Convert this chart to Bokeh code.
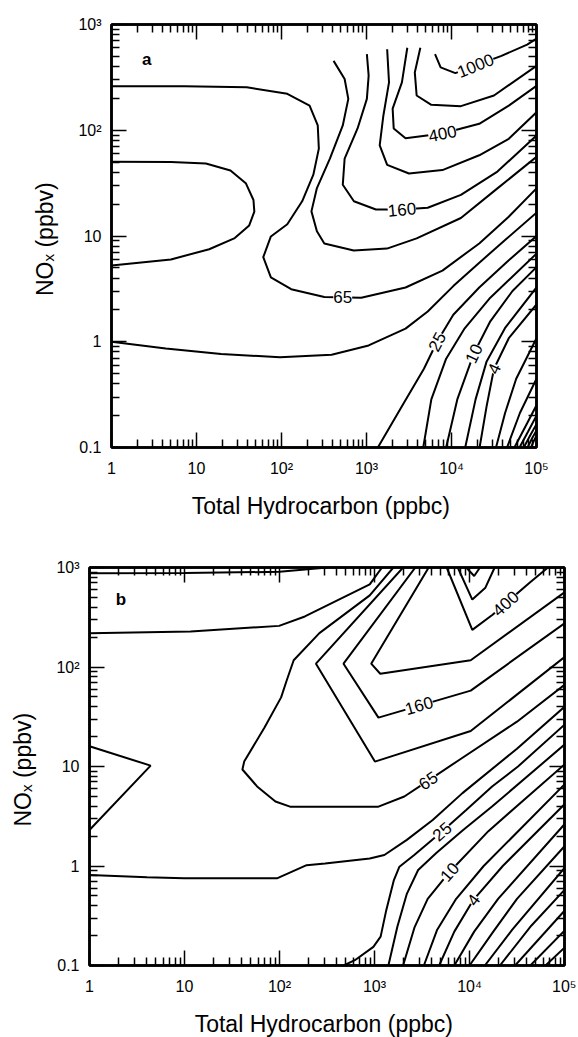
from bokeh.plotting import figure
from bokeh.models import LogAxis, FixedTicker, CustomJSTickFormatter, Spacer
from bokeh.layouts import column, row
from bokeh.embed import file_html
from bokeh.resources import INLINE
from bokeh.core.properties import value

FONT = "Liberation Sans"

X_TICKS = [1, 10, 100, 1000, 10000, 100000]
X_TICK_LABELS = ["1", "10", "10²", "10³", "10⁴", "10⁵"]
Y_TICKS = [0.1, 1, 10, 100, 1000]
Y_TICK_LABELS = ["0.1", "1", "10", "10²", "10³"]

# ---------------- panel a contour lines (Total HC ppbc, NOx ppbv) ----------------
a1000_x = [6400, 7450, 11100, 19200, 38700, 77600, 100000]
a1000_y = [525, 393, 347, 409, 505, 646, 735]
a630_x = [4300, 3700, 3890, 5790, 12900, 31600, 100000]
a630_y = [603, 352, 213, 174, 169, 213, 407]
a400_x = [3020, 2610, 2030, 2090, 2880, 7820, 21200, 47200, 100000]
a400_y = [603, 284, 160, 104, 84, 93, 115, 171, 263]
a250_x = [1750, 1840, 1580, 1430, 1750, 3160, 7820, 21200, 47200, 100000]
a250_y = [583, 284, 138, 72, 47, 39, 42, 58, 83, 148]
a160_x = [1010, 1060, 1010, 785, 553, 526, 711, 1290, 2610, 5250, 12900, 34700, 100000]
a160_y = [524, 328, 198, 104, 54, 30.5, 21.3, 17.8, 17.8, 18.5, 24.5, 40.7, 89]
a100_x = [410, 553, 611, 526, 371, 261, 225, 261, 319, 708, 1740, 3890, 12900, 34700, 100000]
a100_y = [453, 305, 198, 111, 54, 28.4, 17.1, 11.1, 8.5, 7.3, 7.6, 9.5, 14.8, 28.2, 56]
a65_x = [1, 7.2, 39, 117, 214, 267, 275, 237, 175, 117, 75, 61, 75, 130, 319, 867, 2880, 7820, 21200, 46800, 100000]
a65_y = [261, 261, 255, 221, 171, 111, 67, 38, 21.3, 12.9, 9.9, 6.3, 4.06, 3.14, 2.65, 2.61, 3.26, 4.71, 8.5, 15.1, 28.2]
a40_lobe_x = [1, 5.0, 12.9, 25.1, 38, 46.8, 47.9, 41.7, 28.2, 14.1, 5.0, 1]
a40_lobe_y = [50.5, 50.1, 48.5, 41.7, 31.6, 21.9, 17.0, 12.6, 9.55, 7.5, 6.0, 5.25]
a40_x = [1, 4.35, 19.5, 96, 389, 1060, 2880, 5250, 10500, 21400, 42700, 100000]
a40_y = [1.0, 0.863, 0.767, 0.713, 0.755, 0.923, 1.33, 1.93, 3.36, 5.62, 9.16, 16.6]
a25_x = [1360, 2610, 4740, 6760, 10500, 21200, 47200, 100000]
a25_y = [0.1, 0.246, 0.555, 1.0, 1.8, 3.26, 5.89, 10]
a16_x = [4650, 5790, 8650, 14300, 28600, 100000]
a16_y = [0.1, 0.285, 0.692, 1.34, 2.61, 6.81]
a10_x = [8650, 11700, 18300, 28600, 52200, 100000]
a10_y = [0.1, 0.285, 0.773, 1.56, 3.02, 5.07]
a6_x = [14500, 19200, 25900, 42700, 100000]
a6_y = [0.1, 0.285, 0.652, 1.35, 3.26]
a4_x = [21400, 25900, 31600, 47200, 100000]
a4_y = [0.1, 0.246, 0.555, 1.08, 2.25]
a2_5_x = [33400, 42700, 57700, 100000]
a2_5_y = [0.1, 0.212, 0.447, 1.08]
a1_6_x = [45000, 63800, 100000]
a1_6_y = [0.1, 0.212, 0.447]
a1_x = [55000, 74100, 100000]
a1_y = [0.1, 0.158, 0.251]
a0_63_x = [63100, 79400, 100000]
a0_63_y = [0.1, 0.141, 0.2]
a0_4_x = [70800, 85100, 100000]
a0_4_y = [0.1, 0.132, 0.166]
a0_25_x = [78500, 89100, 100000]
a0_25_y = [0.1, 0.123, 0.145]
a0_16_x = [86100, 92900, 100000]
a0_16_y = [0.1, 0.115, 0.129]

a_label_x = [19200, 7820, 2610, 525, 6760, 18300, 31600]
a_label_y = [409, 93, 17.8, 2.63, 1.0, 0.773, 0.555]
a_label_text = ["1000", "400", "160", "65", "25", "10", "4"]
a_label_angle = [22, 11, 5, 0, 62, 65, 65]

# ---------------- panel b contour lines ----------------
b_top_x = [1, 10, 100, 320]
b_top_y = [875, 880, 905, 1000]
b40u_x = [1, 11.6, 99, 185, 891, 1200]
b40u_y = [218, 227, 259, 322, 676, 1000]
b40_lobe_x = [1, 4.4, 1]
b40_lobe_y = [16, 10.2, 2.3]
b40_x = [1, 4.03, 9.9, 94, 193, 302, 891, 1270, 2190, 4100, 8430, 31600, 100000]
b40_y = [0.81, 0.769, 0.752, 0.752, 1.02, 1.06, 1.19, 1.29, 1.83, 2.9, 5.4, 15.1, 39.8]
b65_x = [1580, 891, 263, 141, 119, 104, 69.3, 42.5, 40.7, 58.1, 90.6, 129, 1100, 2060, 3680, 7850, 31600, 100000]
b65_y = [1000, 525, 219, 117, 73.1, 49.5, 24.5, 11.2, 9.33, 6.31, 4.45, 3.95, 3.95, 4.99, 7.21, 11.7, 28.2, 66.1]
b100_x = [2000, 242, 1010, 10300, 100000]
b100_y = [1000, 108, 11.2, 22.7, 126]
b160_x = [2690, 472, 1100, 10300, 100000]
b160_y = [1000, 108, 31, 57.9, 275]
b250_x = [3720, 923, 1150, 10300, 100000]
b250_y = [1000, 108, 85.5, 117, 562]
b400_x = [5750, 10700, 17500, 42900, 67000]
b400_y = [1000, 236, 335, 703, 1000]
b630_x = [7520, 10700, 14700, 18400]
b630_y = [1000, 476, 627, 1000]
b1000_x = [9230, 11200, 12900]
b1000_y = [1000, 822, 1000]
b25_x = [474, 621, 973, 1160, 1330, 1600, 1830, 2620, 5140, 9230, 17300, 32400, 100000]
b25_y = [0.1, 0.113, 0.154, 0.195, 0.36, 0.723, 0.984, 1.29, 2.22, 3.66, 6.3, 10, 26.3]
b16_x = [1400, 1740, 2190, 2880, 4470, 8510, 17400, 100000]
b16_y = [0.1, 0.245, 0.525, 0.912, 1.35, 2.29, 3.98, 16.6]
b10_x = [2000, 2630, 3630, 6170, 15800, 100000]
b10_y = [0.1, 0.24, 0.468, 0.871, 2.24, 10.5]
b6_x = [3310, 4570, 7240, 14100, 100000]
b6_y = [0.1, 0.229, 0.468, 1.0, 6.6]
b4_x = [4790, 6920, 11000, 22400, 100000]
b4_y = [0.1, 0.219, 0.457, 1.0, 4.17]
b2_5_x = [6920, 11200, 20000, 100000]
b2_5_y = [0.1, 0.219, 0.468, 2.63]
b1_6_x = [10000, 17800, 31600, 100000]
b1_6_y = [0.1, 0.219, 0.468, 1.58]
b1_x = [14500, 28200, 100000]
b1_y = [0.1, 0.229, 0.955]
b0_63_x = [20900, 44700, 100000]
b0_63_y = [0.1, 0.251, 0.575]
b0_4_x = [30200, 100000]
b0_4_y = [0.1, 0.355]
b0_25_x = [43700, 100000]
b0_25_y = [0.1, 0.224]
b0_16_x = [63100, 100000]
b0_16_y = [0.1, 0.151]

b_label_x = [24000, 2940, 3680, 5140, 6170, 11000]
b_label_y = [435, 41, 7.21, 2.22, 0.871, 0.457]
b_label_text = ["400", "160", "65", "25", "10", "4"]
b_label_angle = [42, 16, 34, 41, 48, 54]

A_LINES = [(a1000_x, a1000_y), (a630_x, a630_y), (a400_x, a400_y), (a250_x, a250_y),
           (a160_x, a160_y), (a100_x, a100_y), (a65_x, a65_y), (a40_lobe_x, a40_lobe_y),
           (a40_x, a40_y), (a25_x, a25_y), (a16_x, a16_y), (a10_x, a10_y), (a6_x, a6_y),
           (a4_x, a4_y), (a2_5_x, a2_5_y), (a1_6_x, a1_6_y), (a1_x, a1_y),
           (a0_63_x, a0_63_y), (a0_4_x, a0_4_y), (a0_25_x, a0_25_y), (a0_16_x, a0_16_y)]
B_LINES = [(b_top_x, b_top_y), (b40u_x, b40u_y), (b40_lobe_x, b40_lobe_y), (b40_x, b40_y),
           (b65_x, b65_y), (b100_x, b100_y), (b160_x, b160_y), (b250_x, b250_y),
           (b400_x, b400_y), (b630_x, b630_y), (b1000_x, b1000_y), (b25_x, b25_y),
           (b16_x, b16_y), (b10_x, b10_y), (b6_x, b6_y), (b4_x, b4_y), (b2_5_x, b2_5_y),
           (b1_6_x, b1_6_y), (b1_x, b1_y), (b0_63_x, b0_63_y), (b0_4_x, b0_4_y),
           (b0_25_x, b0_25_y), (b0_16_x, b0_16_y)]


def minor_of(ticks):
    out = []
    for t in ticks[:-1]:
        for k in range(2, 10):
            out.append(t * k)
    return out


def make_panel(fw, fh, left, top, bottom, right, lines, lab_x, lab_y, lab_t, lab_a,
               letter, letter_x, letter_y):
    p = figure(x_axis_type="log", y_axis_type="log", x_range=(1, 100000), y_range=(0.1, 1000),
               frame_width=fw, frame_height=fh, min_border_left=left, min_border_top=top,
               min_border_bottom=bottom, min_border_right=right,
               toolbar_location=None, output_backend="svg",
               background_fill_color="white", border_fill_color="white")
    p.grid.visible = False
    p.outline_line_color = "black"
    p.outline_line_width = 2.5

    bottom_ax = p.below[0]
    left_ax = p.left[0]
    bottom_ax.ticker = FixedTicker(ticks=X_TICKS, minor_ticks=minor_of(X_TICKS))
    left_ax.ticker = FixedTicker(ticks=Y_TICKS, minor_ticks=minor_of(Y_TICKS))
    bottom_ax.major_label_overrides = dict(zip(X_TICKS, X_TICK_LABELS))
    left_ax.major_label_overrides = dict(zip(Y_TICKS, Y_TICK_LABELS))
    bottom_ax.axis_label = "Total Hydrocarbon  (ppbc)"
    left_ax.axis_label = "NOₓ  (ppbv)"

    top_ax = LogAxis(ticker=FixedTicker(ticks=X_TICKS, minor_ticks=minor_of(X_TICKS)),
                     formatter=CustomJSTickFormatter(code="return ''"))
    right_ax = LogAxis(ticker=FixedTicker(ticks=Y_TICKS, minor_ticks=minor_of(Y_TICKS)),
                       formatter=CustomJSTickFormatter(code="return ''"))
    p.add_layout(top_ax, "above")
    p.add_layout(right_ax, "right")
    for ax in (top_ax, right_ax):
        ax.major_label_text_font_size = "6px"
        ax.major_label_standoff = 0

    for ax in (bottom_ax, left_ax, top_ax, right_ax):
        ax.axis_line_width = 2.5
        ax.axis_line_color = "black"
        ax.major_tick_in = 15
        ax.major_tick_out = 0
        ax.minor_tick_in = 8
        ax.minor_tick_out = 0
        ax.major_tick_line_width = 1.5
        ax.minor_tick_line_width = 1.5
        ax.major_tick_line_color = "black"
        ax.minor_tick_line_color = "black"

    for ax in (bottom_ax, left_ax):
        ax.major_label_text_font = FONT
        ax.major_label_text_font_size = "16px"
        ax.major_label_text_color = "black"
        ax.axis_label_text_font = FONT
        ax.axis_label_text_font_size = "23px"
        ax.axis_label_text_font_style = "normal"
        ax.axis_label_text_color = "black"
    bottom_ax.major_label_standoff = 12
    bottom_ax.axis_label_standoff = 13
    left_ax.major_label_standoff = 10
    left_ax.axis_label_standoff = 17

    for xs, ys in lines:
        p.line(xs, ys, line_color="black", line_width=2)

    p.text(x=lab_x, y=lab_y, text=lab_t, angle=lab_a, angle_units="deg",
           text_font=value(FONT), text_font_size="17px", text_color="black",
           text_align="center", text_baseline="middle",
           background_fill_color="white")
    p.text(x=[letter_x], y=[letter_y], text=[letter], text_font=value(FONT),
           text_font_size="17px", text_font_style="bold", text_color="black",
           text_align="center", text_baseline="middle")
    return p


pa = make_panel(425, 423, 89, 24, 96, 20, A_LINES, a_label_x, a_label_y, a_label_text,
                a_label_angle, "a", 2.6, 470)
pb = make_panel(475, 398, 89, 24, 72, 12, B_LINES, b_label_x, b_label_y, b_label_text,
                b_label_angle, "b", 2.14, 476)

layout = column(row(Spacer(width=22, height=10), pa, spacing=0), pb, spacing=0)
open("out.html", "w").write(file_html(layout, INLINE))
